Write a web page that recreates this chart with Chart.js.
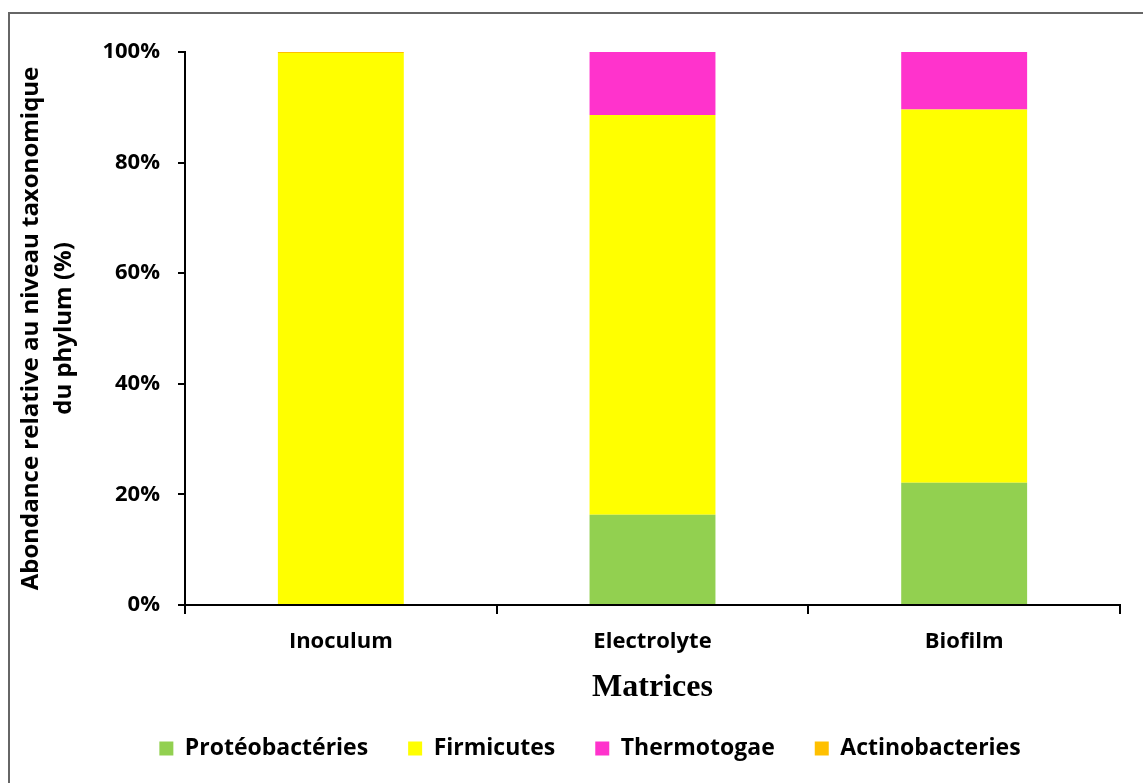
<!DOCTYPE html>
<html>
<head>
<meta charset="utf-8">
<script src="https://cdn.jsdelivr.net/npm/chart.js@4/dist/chart.umd.min.js"></script>
<style>
  html, body { margin: 0; padding: 0; background: #fff; }
  #wrap { position: relative; width: 1143px; height: 783px; overflow: hidden; }
  #frame { position: absolute; left: 8px; top: 12px; width: 2000px; height: 2000px;
           border-left: 2px solid #666; border-top: 2px solid #666; pointer-events: none; }
  canvas { position: absolute; left: 0; top: 0; }
</style>
</head>
<body>
<div id="wrap">
  <canvas id="c" width="1143" height="783"></canvas>
  <div id="frame"></div>
</div>
<script>
const categories = ['Inoculum', 'Electrolyte', 'Biofilm'];
const proteobacteries = [0.2, 16.3, 22.1];
const firmicutes = [99.6, 72.3, 67.5];
const thermotogae = [0, 11.4, 10.4];
const actinobacteries = [0.2, 0, 0];
const seriesNames = ['Protéobactéries', 'Firmicutes', 'Thermotogae', 'Actinobacteries'];
const seriesColors = ['#92D050', '#FFFF00', '#FF33CC', '#FFC000'];
const yTitle = ['Abondance relative au niveau taxonomique', 'du phylum (%)'];
const xTitle = 'Matrices';

const seriesData = [proteobacteries, firmicutes, thermotogae, actinobacteries];

const legendHeightFix = {
  id: 'legendHeightFix',
  beforeLayout(chart) {
    const lg = chart.legend;
    if (lg && !lg._fixed) {
      const orig = lg.fit.bind(lg);
      lg.fit = function () { orig(); this.height = 86; };
      lg._fixed = true;
    }
  },
  afterLayout(chart) {
    const lg = chart.legend;
    if (lg) { lg.left += 25; lg.right += 25; }
  }
};

new Chart(document.getElementById('c'), {
  type: 'bar',
  data: {
    labels: categories,
    datasets: seriesData.map((d, i) => ({
      label: seriesNames[i],
      data: d,
      backgroundColor: seriesColors[i],
      borderWidth: 0,
      barPercentage: 0.404,
      categoryPercentage: 1
    }))
  },
  plugins: [legendHeightFix],
  options: {
    responsive: false,
    animation: false,
    devicePixelRatio: 1,
    layout: { padding: { left: 10, top: 52, right: 23, bottom: 0 } },
    plugins: {
      tooltip: { enabled: false },
      legend: {
        position: 'bottom',
        labels: {
          color: '#000',
          boxWidth: 14,
          boxHeight: 14,
          padding: 40,
          font: { family: 'Open Sans', weight: 'bold', size: 23 }
        }
      }
    },
    scales: {
      x: {
        stacked: true,
        border: { display: true, color: '#000', width: 2 },
        grid: { drawOnChartArea: false, drawTicks: true, tickLength: 9, color: '#000', lineWidth: 2, offset: true },
        ticks: { color: '#000', padding: 15, font: { family: 'Open Sans', weight: 'bold', size: 22 } },
        title: {
          display: true, text: xTitle, color: '#000',
          font: { family: 'Liberation Serif', weight: 'bold', size: 32, lineHeight: 0.6 },
          padding: { top: 0, bottom: 0 }
        },
        afterFit: s => { s.height = 92; }
      },
      y: {
        stacked: true,
        min: 0, max: 100,
        border: { display: true, color: '#000', width: 2 },
        grid: { drawOnChartArea: false, drawTicks: true, tickLength: 7, color: '#000', lineWidth: 2 },
        ticks: {
          stepSize: 20, color: '#000', padding: 18,
          font: { family: 'Open Sans', weight: 'bold', size: 22 },
          callback: v => v + '%'
        },
        title: {
          display: true, text: yTitle, color: '#000',
          font: { family: 'Open Sans', weight: 'bold', size: 24, lineHeight: 1.4 },
          padding: { top: 4, bottom: 0 }
        },
        afterFit: s => { s.width = 175; }
      }
    }
  }
});
</script>
</body>
</html>
